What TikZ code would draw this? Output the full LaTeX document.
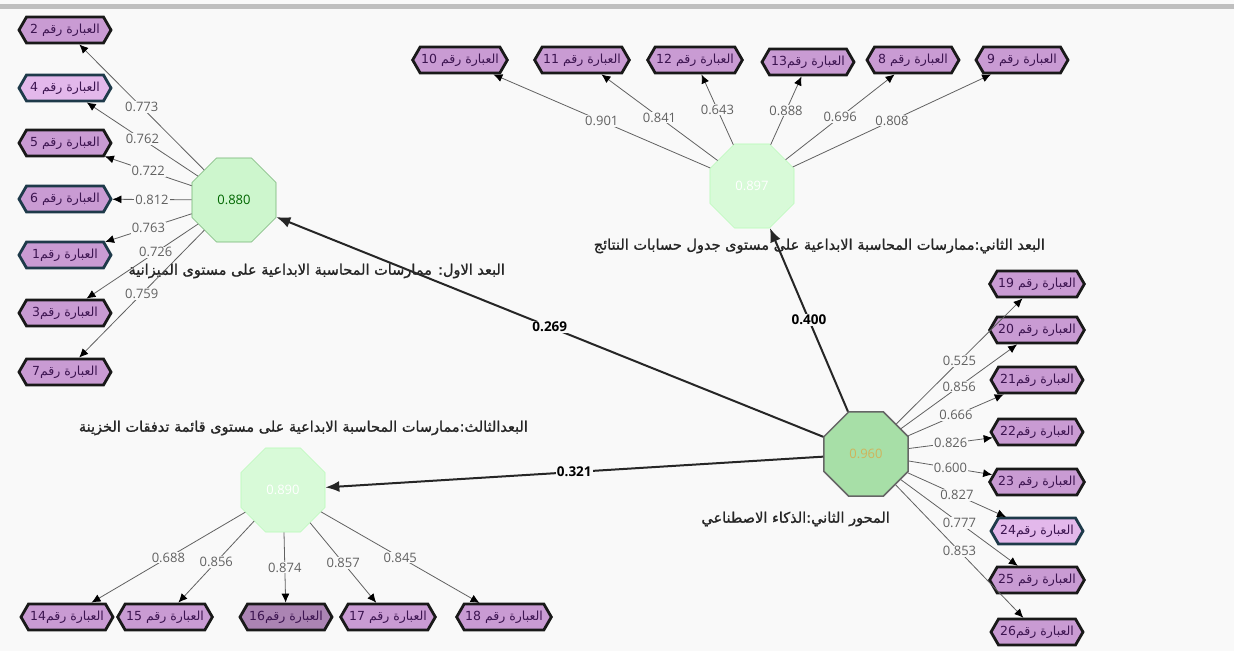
\documentclass[tikz,border=0pt]{standalone}
\usepackage{fontspec}
\setmainfont{Open Sans}
\newfontfamily\arabicfont[Script=Arabic]{DejaVu Sans}
\newfontfamily\arabicheavy[Script=Arabic,FakeBold=1.2]{DejaVu Sans}
\TeXXeTstate=1
\usetikzlibrary{arrows.meta,shapes.geometric,shapes.symbols}
\definecolor{canvas}{HTML}{F9F9F9}
\definecolor{lilac}{HTML}{C99BD3}
\definecolor{lilacpale}{HTML}{E3B8EB}
\definecolor{plumtext}{HTML}{3C1450}
\definecolor{slate}{HTML}{1E3A4A}
\definecolor{mint}{HTML}{CDF6CD}
\definecolor{mintpale}{HTML}{D8FAD8}
\definecolor{leaf}{HTML}{A7DFA7}
\newcommand{\artext}[1]{\beginR #1\endR}
\newcommand{\ltr}[1]{\beginL #1\endL{}}
\newcommand{\stmt}[1]{\artext{العبارة رقم \ltr{#1}}}
\newcommand{\stmtx}[1]{\artext{العبارة رقم\ltr{#1}}}

\begin{document}
\begin{tikzpicture}[
 x=1pt,y=-1pt,
 every node/.style={font=\small},
 indbox/.style={signal,signal to=east and west,signal pointer angle=120,
 draw=black!90,line width=2.8pt,fill=lilac,minimum width=92pt,
 minimum height=26pt,inner sep=1pt,text=plumtext,
 font=\arabicfont\fontsize{12.5}{14}\selectfont},
 indslate/.style={indbox,draw=slate},
 lv/.style={regular polygon,regular polygon sides=8,minimum size=91pt,
 inner sep=0pt,draw=green!45!black!55,fill=mint,line width=.6pt,
 text=green!40!black,font=\fontsize{13}{15}\selectfont},
 lvpale/.style={lv,fill=mintpale,draw=mintpale!85!green,text=white},
 lvmain/.style={lv,fill=leaf,draw=black!60,line width=1.5pt,text=orange!45!leaf},
 loading/.style={-{Latex[length=9pt,width=8pt,color=black]},draw=black!62,line width=.8pt},
 loadval/.style={fill=canvas,inner sep=1pt,text=black!62,font=\fontsize{13}{15}\selectfont},
 struct/.style={-{Latex[length=14pt,width=11pt]},draw=black!85,line width=2pt},
 structval/.style={fill=canvas,inner sep=1pt,font=\bfseries\fontsize{13.5}{15}\selectfont},
 lvname/.style={anchor=east,inner sep=0pt,text=black!85,
 font=\arabicheavy\fontsize{14.5}{16}\selectfont}]
\useasboundingbox (0,0) rectangle (1234,651);
\fill[canvas] (0,0) rectangle (1234,651);
\fill[black!25] (0,4) rectangle (1234,9);
% latent variables
\node[lv] (dim1) at (234,200) {0.880};
\node[lvpale] (dim2) at (752,186) {0.897};
\node[lvpale] (dim3) at (283,490) {0.890};
\node[lvmain] (ai) at (866,454) {0.960};
\node[lvname] (dim1name) at (505,271) {\artext{البعد الاول: ممارسات المحاسبة الابداعية على مستوى الميزانية}};
\node[lvname] (dim2name) at (1045,246) {\artext{البعد الثاني:ممارسات المحاسبة الابداعية على مستوى جدول حسابات النتائج}};
\node[lvname] (dim3name) at (528,428) {\artext{البعدالثالث:ممارسات المحاسبة الابداعية على مستوى قائمة تدفقات الخزينة}};
\node[lvname] (ainame) at (890,519) {\artext{المحور الثاني:الذكاء الاصطناعي}};
% indicators, first dimension
\node[indbox] (s2) at (65,30) {\stmt{2}};
\node[indslate,fill=lilacpale] (s4) at (65,88) {\stmt{4}};
\node[indbox] (s5) at (65,143) {\stmt{5}};
\node[indslate] (s6) at (65,199) {\stmt{6}};
\node[indslate] (s1) at (65,255) {\stmtx{1}};
\node[indbox] (s3) at (65,313) {\stmtx{3}};
\node[indbox] (s7) at (65,372) {\stmtx{7}};
% indicators, second dimension
\node[indbox] (s10) at (460,60) {\stmt{10}};
\node[indbox] (s11) at (582,60) {\stmt{11}};
\node[indbox] (s12) at (695,60) {\stmt{12}};
\node[indbox] (s13) at (808,62) {\stmtx{13}};
\node[indbox] (s8) at (913,60) {\stmt{8}};
\node[indbox] (s9) at (1022,60) {\stmt{9}};
% indicators, third dimension
\node[indbox] (s14) at (67,617) {\stmtx{14}};
\node[indbox] (s15) at (165,617) {\stmt{15}};
\node[indbox,fill=lilac!85!black] (s16) at (286,617) {\stmtx{16}};
\node[indbox] (s17) at (388,617) {\stmt{17}};
\node[indbox] (s18) at (504,617) {\stmt{18}};
% indicators, artificial intelligence
\node[indbox] (s19) at (1037,284) {\stmt{19}};
\node[indbox] (s20) at (1037,330) {\stmt{20}};
\node[indbox] (s21) at (1037,380) {\stmtx{21}};
\node[indbox] (s22) at (1037,432) {\stmtx{22}};
\node[indbox] (s23) at (1037,482) {\stmt{23}};
\node[indslate,fill=lilacpale] (s24) at (1037,531) {\stmtx{24}};
\node[indbox] (s25) at (1037,580) {\stmt{25}};
\node[indbox] (s26) at (1037,632) {\stmtx{26}};
% outer loadings
\draw[loading] (dim1) -- (s2) node[loadval,pos=.5] {0.773};
\draw[loading] (dim1) -- (s4) node[loadval,pos=.5] {0.762};
\draw[loading] (dim1) -- (s5) node[loadval,pos=.5] {0.722};
\draw[loading] (dim1) -- (s6) node[loadval,pos=.5] {0.812};
\draw[loading] (dim1) -- (s1) node[loadval,pos=.5] {0.763};
\draw[loading] (dim1) -- (s3) node[loadval,pos=.38] {0.726};
\draw[loading] (dim1) -- (s7) node[loadval,pos=.5] {0.759};
\draw[loading] (dim2) -- (s10) node[loadval,pos=.5] {0.901};
\draw[loading] (dim2) -- (s11) node[loadval,pos=.5] {0.841};
\draw[loading] (dim2) -- (s12) node[loadval,pos=.5] {0.643};
\draw[loading] (dim2) -- (s13) node[loadval,pos=.5] {0.888};
\draw[loading] (dim2) -- (s8) node[loadval,pos=.5] {0.696};
\draw[loading] (dim2) -- (s9) node[loadval,pos=.5] {0.808};
\draw[loading] (dim3) -- (s14) node[loadval,pos=.5] {0.688};
\draw[loading] (dim3) -- (s15) node[loadval,pos=.5] {0.856};
\draw[loading] (dim3) -- (s16) node[loadval,pos=.5] {0.874};
\draw[loading] (dim3) -- (s17) node[loadval,pos=.5] {0.857};
\draw[loading] (dim3) -- (s18) node[loadval,pos=.5] {0.845};
\draw[loading] (ai) -- (s19) node[loadval,pos=.5] {0.525};
\draw[loading] (ai) -- (s20) node[loadval,pos=.5] {0.856};
\draw[loading] (ai) -- (s21) node[loadval,pos=.5] {0.666};
\draw[loading] (ai) -- (s22) node[loadval,pos=.5] {0.826};
\draw[loading] (ai) -- (s23) node[loadval,pos=.5] {0.600};
\draw[loading] (ai) -- (s24) node[loadval,pos=.5] {0.827};
\draw[loading] (ai) -- (s25) node[loadval,pos=.5] {0.777};
\draw[loading] (ai) -- (s26) node[loadval,pos=.5] {0.853};
% path coefficients
\draw[struct] (ai) -- (dim1) node[structval,pos=.5] {0.269};
\draw[struct] (ai) -- (dim2) node[structval,pos=.5] {0.400};
\draw[struct] (ai) -- (dim3) node[structval,pos=.5] {0.321};
\end{tikzpicture}
\end{document}
